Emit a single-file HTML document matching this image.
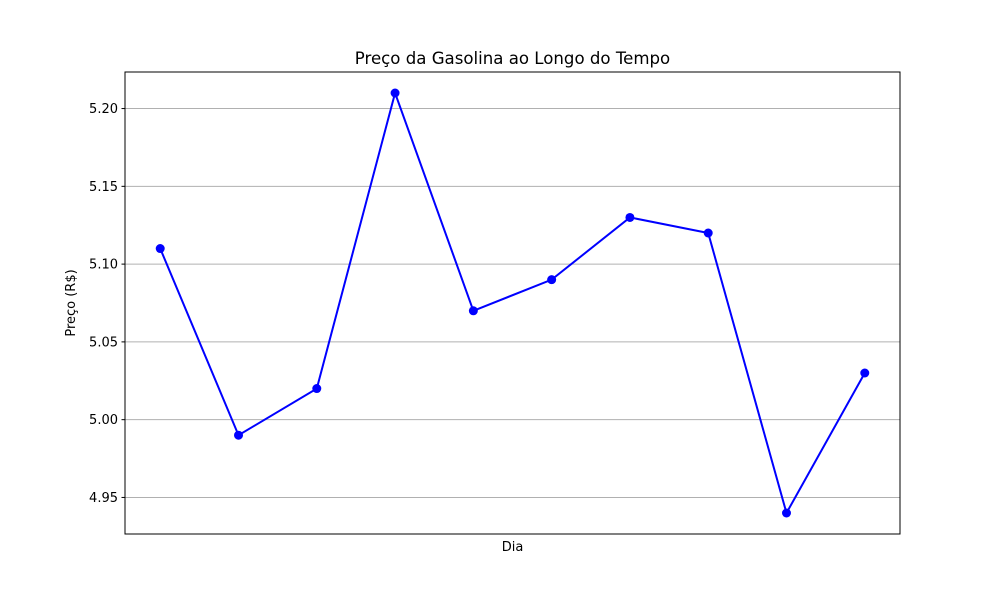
<!DOCTYPE html>
<html><head><meta charset="utf-8"><style>
body{margin:0;background:#fff;}
svg text{font-family:"DejaVu Sans","Liberation Sans",sans-serif;}
</style></head><body>
<svg width="1000" height="600" xmlns="http://www.w3.org/2000/svg">
<rect width="1000" height="600" fill="#fff"/>
<g id="grid"></g>
<g id="yticks"></g>
<polyline id="line" fill="none" stroke="#0000ff" stroke-width="2"/>
<g id="pts"></g>
<rect x="125" y="72" width="775" height="462" fill="none" stroke="#000" stroke-width="1"/>
<text x="512.5" y="64" font-size="16.6" text-anchor="middle">Preço da Gasolina ao Longo do Tempo</text>
<text x="512.5" y="551" font-size="13" text-anchor="middle">Dia</text>
<text transform="translate(75,303) rotate(-90)" font-size="13" text-anchor="middle">Preço (R$)</text>
</svg>
<script>
const days=[0,1,2,3,4,5,6,7,8,9];
const prices=[5.11,4.99,5.02,5.21,5.07,5.09,5.13,5.12,4.94,5.03];
const yTicks=[4.95,5.00,5.05,5.10,5.15,5.20];
const yTickLabels=["4.95","5.00","5.05","5.10","5.15","5.20"];
const L=125,R=900,T=72,B=534;
const ymin=Math.min(...prices),ymax=Math.max(...prices),ym=(ymax-ymin)*0.05;
const y0=ymin-ym,y1=ymax+ym;
const xmin=Math.min(...days),xmax=Math.max(...days),xm=(xmax-xmin)*0.05;
const x0=xmin-xm,x1=xmax+xm;
const sx=v=>L+(v-x0)/(x1-x0)*(R-L);
const sy=v=>B-(v-y0)/(y1-y0)*(B-T);
const ns="http://www.w3.org/2000/svg";
const grid=document.getElementById('grid'),yt=document.getElementById('yticks');
yTicks.forEach((t,i)=>{
 const y=sy(t);
 const g=document.createElementNS(ns,'line');
 
 
 g.setAttribute('x1',L);g.setAttribute('x2',R);g.setAttribute('y1',y);g.setAttribute('y2',y);
 g.setAttribute('stroke','#b0b0b0');g.setAttribute('stroke-width','1');grid.appendChild(g);
 const tk=document.createElementNS(ns,'line');
 
 
 tk.setAttribute('x1',L-3.5);tk.setAttribute('x2',L);tk.setAttribute('y1',y);tk.setAttribute('y2',y);
 tk.setAttribute('stroke','#000');tk.setAttribute('stroke-width','1');yt.appendChild(tk);
 const tx=document.createElementNS(ns,'text');
 
 
 tx.setAttribute('x',L-7);tx.setAttribute('y',y+4.5);tx.setAttribute('font-size','13');
 tx.setAttribute('text-anchor','end');tx.textContent=yTickLabels[i];yt.appendChild(tx);
});
document.getElementById('line').setAttribute('points',days.map((d,i)=>sx(d)+','+sy(prices[i])).join(' '));
const pts=document.getElementById('pts');
days.forEach((d,i)=>{
 const c=document.createElementNS(ns,'circle');
 
 
 c.setAttribute('cx',sx(d));c.setAttribute('cy',sy(prices[i]));c.setAttribute('r','4.5');
 c.setAttribute('fill','#0000ff');pts.appendChild(c);
});
</script>
</body></html>
